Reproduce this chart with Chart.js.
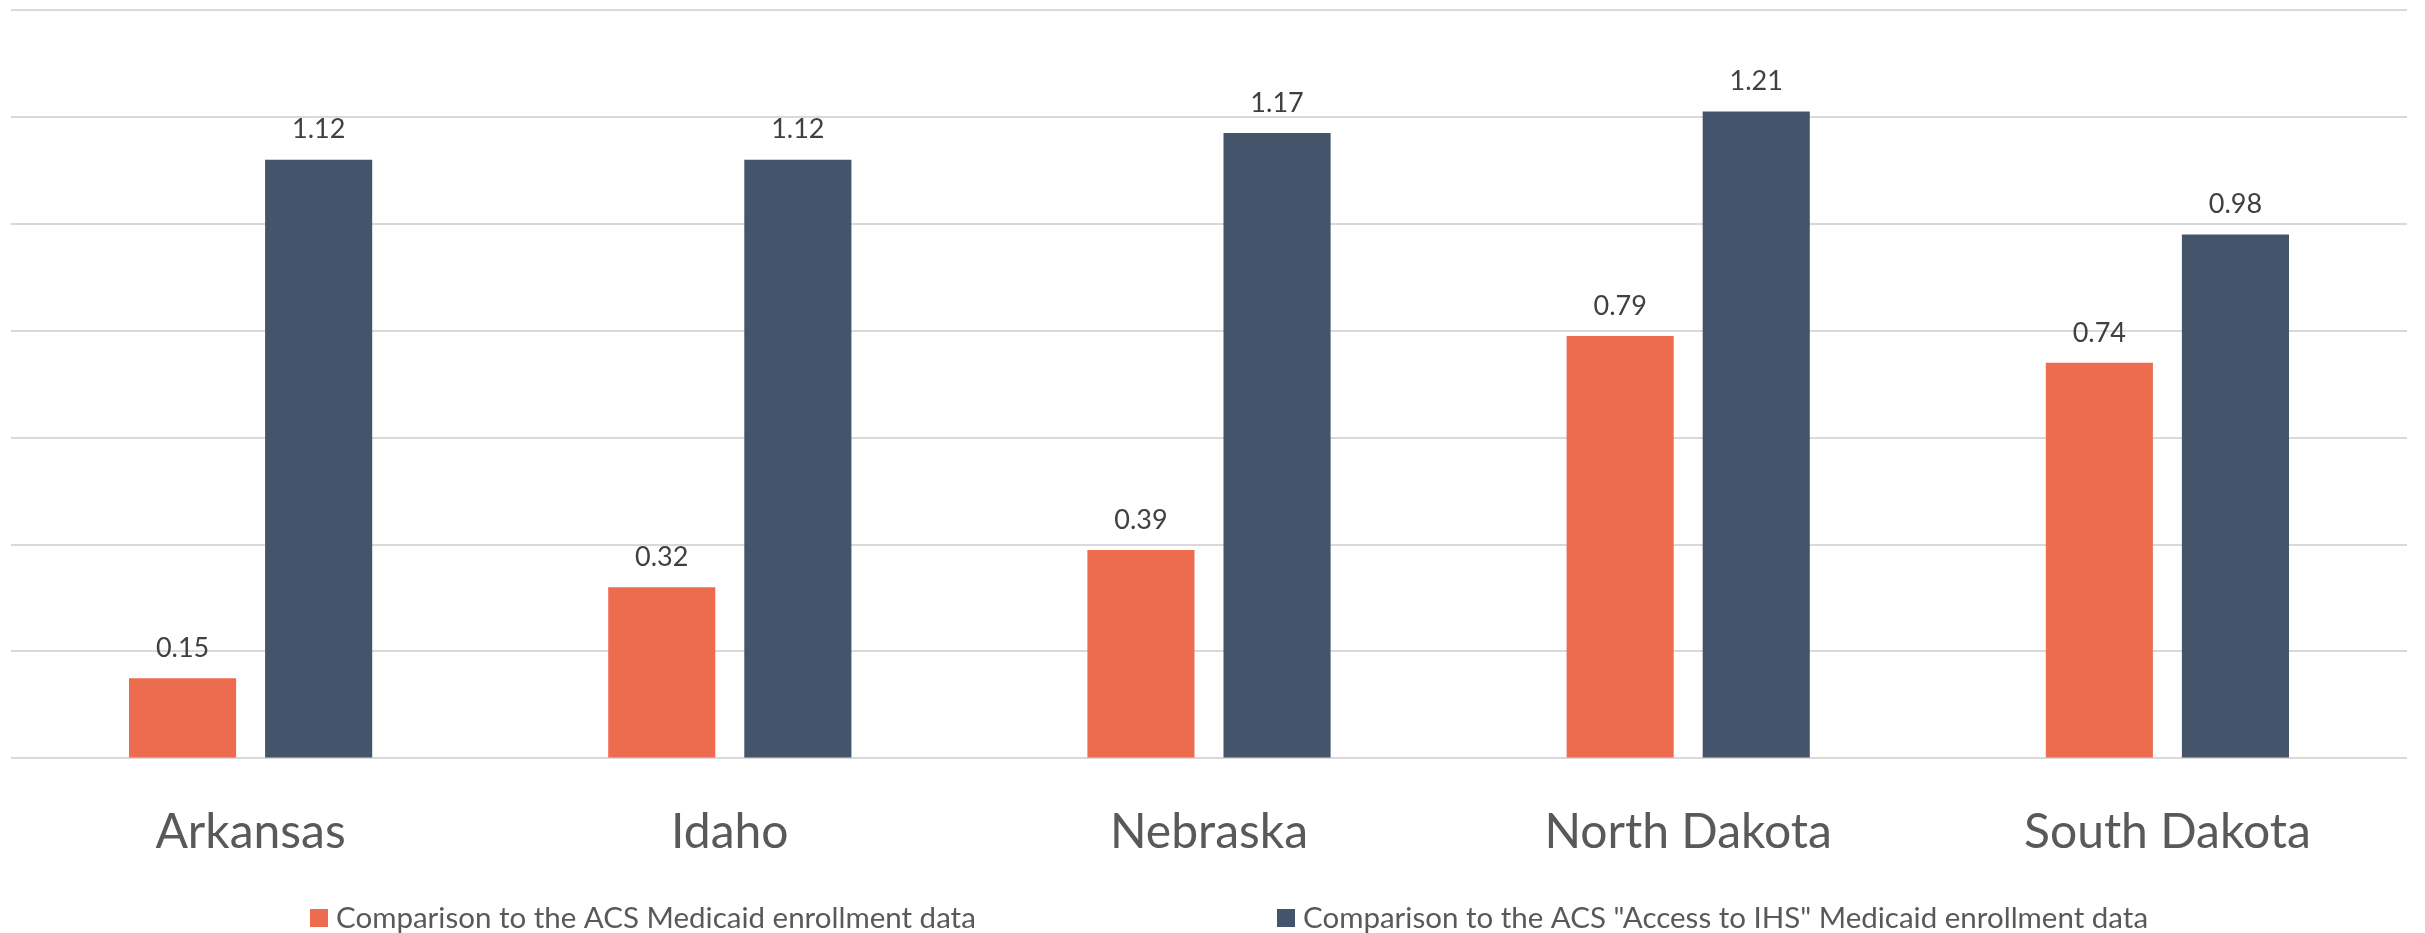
<!DOCTYPE html>
<html>
<head>
<meta charset="utf-8">
<script src="https://cdn.jsdelivr.net/npm/chart.js@4"></script>
<style>
  html, body { margin: 0; padding: 0; background: #ffffff; }
  #wrap { width: 2425px; height: 933px; position: relative; }
</style>
</head>
<body>
<div id="wrap"><canvas id="c"></canvas></div>
<script>
const categories = ["Arkansas", "Idaho", "Nebraska", "North Dakota", "South Dakota"];
const seriesNames = [
  "Comparison to the ACS Medicaid enrollment data",
  "Comparison to the ACS \"Access to IHS\" Medicaid enrollment data"
];
const acsValues = [0.15, 0.32, 0.39, 0.79, 0.74];
const ihsValues = [1.12, 1.12, 1.17, 1.21, 0.98];
const yTicks = [0, 0.2, 0.4, 0.6, 0.8, 1.0, 1.2, 1.4];

const FONT = "Lato, 'Open Sans', sans-serif";
const colors = ["#ED6B4F", "#44546A"];

const valueLabels = {
  id: "valueLabels",
  afterDatasetsDraw(chart) {
    const ctx = chart.ctx;
    ctx.save();
    ctx.font = "27px " + FONT;
    ctx.fillStyle = "#404040";
    ctx.textAlign = "center";
    ctx.textBaseline = "middle";
    chart.data.datasets.forEach((ds, di) => {
      const meta = chart.getDatasetMeta(di);
      meta.data.forEach((bar, i) => {
        ctx.fillText(ds.data[i].toFixed(2), bar.x, bar.y - 30);
      });
    });
    ctx.restore();
  }
};

const customLegend = {
  id: "customLegend",
  afterDraw(chart) {
    const ctx = chart.ctx;
    ctx.save();
    ctx.font = "29.5px " + FONT;
    ctx.textBaseline = "middle";
    ctx.textAlign = "left";
    const starts = [310, 1277];
    const cy = 918;
    chart.data.datasets.forEach((ds, di) => {
      ctx.fillStyle = ds.backgroundColor;
      ctx.fillRect(starts[di], cy - 9, 18, 18);
      ctx.fillStyle = "#595959";
      ctx.fillText(ds.label, starts[di] + 26, cy);
    });
    ctx.restore();
  }
};

new Chart(document.getElementById("c"), {
  type: "bar",
  data: {
    labels: categories,
    datasets: [
      { label: seriesNames[0], data: acsValues, backgroundColor: colors[0] },
      { label: seriesNames[1], data: ihsValues, backgroundColor: colors[1] }
    ]
  },
  options: {
    responsive: true,
    maintainAspectRatio: false,
    animation: false,
    devicePixelRatio: 1,
    layout: { padding: { left: 11, right: 18, top: 10, bottom: 27 } },
    datasets: { bar: { categoryPercentage: 0.568, barPercentage: 0.787 } },
    plugins: {
      legend: { display: false },
      tooltip: { enabled: false }
    },
    scales: {
      x: {
        grid: { display: false, drawTicks: false },
        border: { display: false },
        ticks: {
          color: "#595959",
          font: { family: FONT, size: 48, lineHeight: 1.2 },
          padding: 45,
          maxRotation: 0
        }
      },
      y: {
        min: yTicks[0],
        max: yTicks[yTicks.length - 1],
        afterBuildTicks(axis) { axis.ticks = yTicks.map(v => ({ value: v })); },
        grid: { color: "#d9d9d9", lineWidth: 2, drawTicks: false },
        border: { display: false },
        ticks: { display: false }
      }
    }
  },
  plugins: [valueLabels, customLegend]
});
</script>
</body>
</html>
